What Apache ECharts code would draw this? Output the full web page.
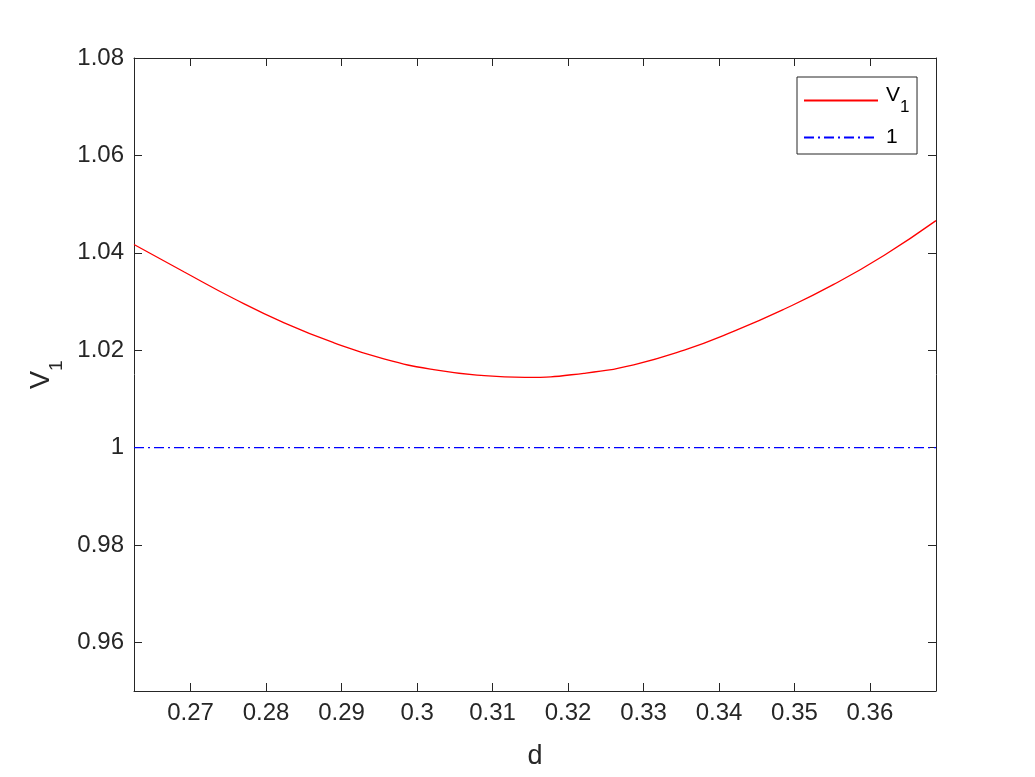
<!DOCTYPE html>
<html>
<head>
<meta charset="utf-8">
<script src="https://cdn.jsdelivr.net/npm/echarts@6/dist/echarts.min.js"></script>
<style>
html,body{margin:0;padding:0;background:#fff;}
#c{width:1035px;height:777px;}
</style>
</head>
<body>
<div id="c"></div>
<script>
const dValues = [0.2625, 0.2691, 0.2757, 0.2824, 0.2890, 0.2956, 0.3022, 0.3089, 0.3143, 0.3221, 0.3287, 0.3354, 0.3420, 0.3486, 0.3552, 0.3619, 0.36875];
const v1Values = [1.0417, 1.0361, 1.0306, 1.0256, 1.0215, 1.0182, 1.0160, 1.01475, 1.0144, 1.01525, 1.0170, 1.0200, 1.0239, 1.0284, 1.0335, 1.0395, 1.0466];
const refX = [0.2625, 0.36875];
const refY = [1, 1];
const xRange = [0.2625, 0.36875];
const yRange = [0.95, 1.08];

const axisColor = '#262626';
const font = 'Liberation Sans, Arial, Helvetica, sans-serif';

const chart = echarts.init(document.getElementById('c'));
const axisCommon = {
  type: 'value',
  axisLine: { show: true, onZero: false, lineStyle: { color: axisColor, width: 1 } },
  axisTick: { show: true, inside: true, length: 8, lineStyle: { color: axisColor, width: 1 } },
  splitLine: { show: false }
};
chart.setOption({
  backgroundColor: '#fff',
  animation: false,
  grid: { left: 134, right: 99, top: 58, bottom: 86, containLabel: false },
  xAxis: [
    Object.assign({}, axisCommon, {
      min: xRange[0], max: xRange[1], splitNumber: 10, position: 'bottom',
      name: 'd', nameLocation: 'middle', nameGap: 52,
      nameTextStyle: { color: axisColor, fontSize: 27, fontFamily: font },
      axisLabel: { color: axisColor, fontSize: 24, fontFamily: font, margin: 10, showMinLabel: false, showMaxLabel: false }
    }),
    Object.assign({}, axisCommon, {
      min: xRange[0], max: xRange[1], splitNumber: 10, position: 'top',
      axisLabel: { show: false }
    })
  ],
  yAxis: [
    Object.assign({}, axisCommon, {
      min: yRange[0], max: yRange[1], splitNumber: 7, position: 'left',
      name: '{a|V}{b|1}{h| }', nameLocation: 'middle', nameGap: 68, nameRotate: 90,
      nameTextStyle: {
        color: axisColor, fontFamily: font,
        rich: {
          a: { fontSize: 27, lineHeight: 27, verticalAlign: 'top', color: axisColor, fontFamily: font },
          b: { fontSize: 19, lineHeight: 19, verticalAlign: 'bottom', color: axisColor, fontFamily: font },
          h: { fontSize: 2, lineHeight: 38, color: axisColor, fontFamily: font }
        }
      },
      axisLabel: { color: axisColor, fontSize: 24, fontFamily: font, margin: 10, showMinLabel: false }
    }),
    Object.assign({}, axisCommon, {
      min: yRange[0], max: yRange[1], splitNumber: 7, position: 'right',
      axisLabel: { show: false }
    })
  ],
  legend: {
    orient: 'vertical', left: 797, top: 77,
    padding: [8, 7, 6, 6],
    borderColor: axisColor, borderWidth: 1, backgroundColor: '#fff',
    itemWidth: 74, itemHeight: 14, itemGap: 11,
    itemStyle: { opacity: 0 },
    data: ['V_1', '1'],
    formatter: function (name) { return name === 'V_1' ? '{a|V}{b|1}{h| }' : '{c|1}'; },
    textStyle: {
      color: '#000', fontFamily: font, fontSize: 21,
      rich: {
        a: { fontSize: 21, lineHeight: 21, verticalAlign: 'top', padding: [0, 0, 0, 3], color: '#000', fontFamily: font },
        b: { fontSize: 17, lineHeight: 17, verticalAlign: 'bottom', color: '#000', fontFamily: font },
        h: { fontSize: 2, lineHeight: 31, color: '#000', fontFamily: font },
        c: { fontSize: 21, lineHeight: 21, padding: [0, 0, 0, 3], color: '#000', fontFamily: font }
      }
    }
  },
  series: [
    {
      name: 'V_1', type: 'line', xAxisIndex: 0, yAxisIndex: 0,
      data: dValues.map((d, i) => [d, v1Values[i]]),
      smooth: true, symbol: 'none',
      lineStyle: { color: '#ff0000', width: 1.3 }, itemStyle: { color: '#ff0000' }
    },
    {
      name: '1', type: 'line', xAxisIndex: 0, yAxisIndex: 0,
      data: refX.map((d, i) => [d, refY[i]]),
      symbol: 'none',
      lineStyle: { color: '#0000ff', width: 1.3, type: [10, 4, 2, 4] }, itemStyle: { color: '#0000ff' }
    }
  ]
});
</script>
</body>
</html>
